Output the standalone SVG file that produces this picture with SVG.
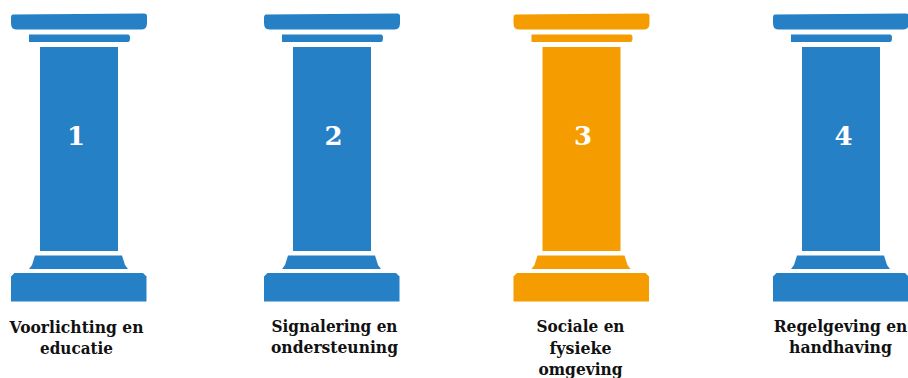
<svg xmlns="http://www.w3.org/2000/svg" width="908" height="378" viewBox="0 0 908 378">
<style>
.l{font-family:"DejaVu Serif","Liberation Serif",serif;font-weight:700;font-size:16.500px;fill:#111;text-anchor:middle}
.n{font-family:"DejaVu Serif",serif;font-weight:700;font-size:26px;fill:#fff;text-anchor:middle}
.b{fill:#2680c5}.o{fill:#f59d00}
</style>
<defs>
<g id="col">
<path d="M13 14.500L144 13.500Q147 13.500 147 16V23Q147 29 142 29.500L16 29.500Q11 29.500 11 23V18Q11 14.500 13 14.500Z"/>
<path d="M29 34.500H128Q130 34.500 130 38Q130 42 128 42H29Z"/>
<rect x="40" y="47" width="78" height="204"/>
<path d="M35 255.500H122L125 265L128 269H29L32 265Z"/>
<path d="M14.500 273H143L146.500 276.500V301.500H11V276.500Z"/>
</g>
</defs>
<g id="pillar1" class="b"><use href="#col"/><text class="n" x="76" y="145">1</text>
<text class="l" x="76.500" y="332.500" textLength="134" lengthAdjust="spacingAndGlyphs">Voorlichting en</text><text class="l" x="76.500" y="354" textLength="73" lengthAdjust="spacingAndGlyphs">educatie</text></g>
<g id="pillar2" class="b"><use href="#col" x="253"/><text class="n" x="333.500" y="145">2</text>
<text class="l" x="334.500" y="331.500" textLength="126" lengthAdjust="spacingAndGlyphs">Signalering en</text><text class="l" x="334.500" y="353" textLength="127" lengthAdjust="spacingAndGlyphs">ondersteuning</text></g>
<g id="pillar3" class="o"><use href="#col" x="502.500"/><text class="n" x="583" y="145">3</text>
<text class="l" x="580.500" y="332" textLength="88" lengthAdjust="spacingAndGlyphs">Sociale en</text><text class="l" x="580.500" y="353.500" textLength="62" lengthAdjust="spacingAndGlyphs">fysieke</text><text class="l" x="580.500" y="375" textLength="84" lengthAdjust="spacingAndGlyphs">omgeving</text></g>
<g id="pillar4" class="b"><use href="#col" x="762"/><text class="n" x="843.500" y="145">4</text>
<text class="l" transform="translate(840.500 331.500) scale(.94 1)">Regelgeving en</text><text class="l" x="840.500" y="353" textLength="103" lengthAdjust="spacingAndGlyphs">handhaving</text></g>
<g id="connectors"></g>
</svg>
